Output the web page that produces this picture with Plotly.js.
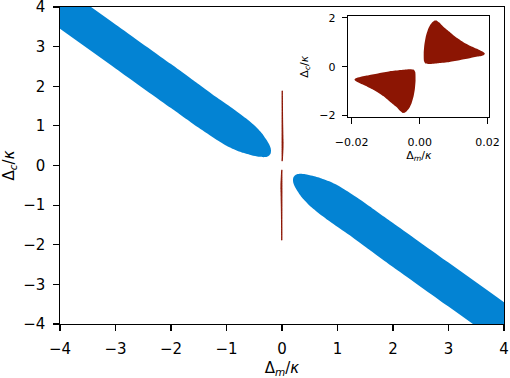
<!DOCTYPE html>
<html>
<head>
<meta charset="utf-8">
<script src="https://cdn.plot.ly/plotly-3.0.1.min.js"></script>
<style>
  html, body { margin: 0; padding: 0; background: #fff; }
  #plot { width: 510px; height: 378px; }
</style>
</head>
<body>
<div id="plot"></div>
<script>
// Boundary of the blue region, upper-left lobe (Δm/κ, Δc/κ), traced clockwise
const blueUpperLeftX = [-4.6, -3.0, -2.0, -1.5, -1.2, -0.9, -0.65, -0.48, -0.36, -0.28, -0.23, -0.205, -0.198, -0.205, -0.23, -0.27, -0.33, -0.42, -0.55, -0.70, -0.85, -1.0, -1.2, -1.5, -2.0, -3.0, -4.6];
const blueUpperLeftY = [5.16, 3.56, 2.56, 2.05, 1.74, 1.45, 1.19, 0.99, 0.81, 0.65, 0.53, 0.44, 0.37, 0.30, 0.25, 0.22, 0.21, 0.22, 0.26, 0.32, 0.40, 0.50, 0.67, 0.95, 1.45, 2.45, 4.05];

// Blue region, lower-right lobe
const blueLowerRightX = [4.6, 3.0, 2.0, 1.5, 1.2, 0.9, 0.65, 0.48, 0.36, 0.28, 0.23, 0.205, 0.198, 0.205, 0.23, 0.27, 0.33, 0.42, 0.55, 0.70, 0.85, 1.0, 1.2, 1.5, 2.0, 3.0, 4.6];
const blueLowerRightY = [-5.16, -3.56, -2.56, -2.05, -1.74, -1.45, -1.19, -0.99, -0.81, -0.65, -0.53, -0.44, -0.37, -0.30, -0.25, -0.22, -0.21, -0.22, -0.26, -0.32, -0.40, -0.50, -0.67, -0.95, -1.45, -2.45, -4.05];

// Red region, upper lobe (Δm > 0)
const redUpperX = [0.0050, 0.0058, 0.0069, 0.0090, 0.0107, 0.0130, 0.0155, 0.0176, 0.0187, 0.0192, 0.0188, 0.0175, 0.0150, 0.0120, 0.0088, 0.0055, 0.0028, 0.0017, 0.0013, 0.0012, 0.0014, 0.0018, 0.0024, 0.0031, 0.0038, 0.0044];
const redUpperY = [1.89, 1.80, 1.64, 1.40, 1.20, 0.99, 0.81, 0.68, 0.60, 0.53, 0.47, 0.42, 0.35, 0.27, 0.19, 0.14, 0.11, 0.13, 0.22, 0.55, 0.90, 1.22, 1.50, 1.70, 1.82, 1.88];

// Red region, lower lobe (Δm < 0)
const redLowerX = [-0.0050, -0.0058, -0.0069, -0.0090, -0.0107, -0.0130, -0.0155, -0.0176, -0.0187, -0.0192, -0.0188, -0.0175, -0.0150, -0.0120, -0.0088, -0.0055, -0.0028, -0.0017, -0.0013, -0.0012, -0.0014, -0.0018, -0.0024, -0.0031, -0.0038, -0.0044];
const redLowerY = [-1.89, -1.80, -1.64, -1.40, -1.20, -0.99, -0.81, -0.68, -0.60, -0.53, -0.47, -0.42, -0.35, -0.27, -0.19, -0.14, -0.11, -0.13, -0.22, -0.55, -0.90, -1.22, -1.50, -1.70, -1.82, -1.88];

// Axis ticks
const mainTicks = [-4, -3, -2, -1, 0, 1, 2, 3, 4];
const insetXTicks = [-0.02, 0.0, 0.02];
const insetXTickText = ['−0.02', '0.00', '0.02'];
const insetYTicks = [-2, 0, 2];

const BLUE = '#0383d3';
const RED = '#8c1503';

function region(x, y, color, xa, ya, lw) {
  return {
    type: 'scatter', mode: 'lines', x: x, y: y,
    xaxis: xa, yaxis: ya,
    fill: 'toself', fillcolor: color,
    line: { color: color, width: lw, shape: 'spline', smoothing: 0.6 },
    hoverinfo: 'skip', showlegend: false
  };
}

const traces = [
  region(blueUpperLeftX, blueUpperLeftY, BLUE, 'x', 'y', 0),
  region(blueLowerRightX, blueLowerRightY, BLUE, 'x', 'y', 0),
  region(redUpperX, redUpperY, RED, 'x', 'y', 1),
  region(redLowerX, redLowerY, RED, 'x', 'y', 1),
  region(redUpperX, redUpperY, RED, 'x2', 'y2', 0),
  region(redLowerX, redLowerY, RED, 'x2', 'y2', 0)
];

const FONT = 'DejaVu Sans, sans-serif';
const axisCommon = {
  showline: true, mirror: true, linecolor: '#000', linewidth: 1.1,
  ticks: 'outside', ticklen: 5.5, tickwidth: 1.1, tickcolor: '#000',
  showgrid: false, zeroline: false, automargin: false,
  ticklabeloverflow: 'allow'
};

const layout = {
  width: 510, height: 378,
  margin: { l: 60, r: 6, t: 7, b: 54 },
  paper_bgcolor: '#fff', plot_bgcolor: '#fff',
  font: { family: FONT, color: '#000', size: 15 },
  showlegend: false,
  xaxis: Object.assign({}, axisCommon, {
    range: [-4.0005, 4.0005], tickvals: mainTicks, domain: [0, 1], anchor: 'y',
    tickfont: { size: 15 }, ticklabelstandoff: 5,
    title: { text: 'Δ<sub><i>m</i></sub>/<i>κ</i>', font: { size: 15 }, standoff: 5 }
  }),
  yaxis: Object.assign({}, axisCommon, {
    range: [-4.0005, 4.0005], tickvals: mainTicks, domain: [0, 1], anchor: 'x',
    tickfont: { size: 15 }, ticklabelstandoff: 5,
    title: { text: 'Δ<sub><i>c</i></sub>/<i>κ</i>', font: { size: 15 }, standoff: 7 }
  }),
  xaxis2: Object.assign({}, axisCommon, {
    range: [-0.021, 0.0205], tickvals: insetXTicks, ticktext: insetXTickText,
    domain: [0.6493, 0.9669], anchor: 'y2',
    tickfont: { size: 11 }, ticklabelstandoff: 9,
    title: { text: 'Δ<sub><i>m</i></sub>/<i>κ</i>', font: { size: 11 }, standoff: 1 }
  }),
  yaxis2: Object.assign({}, axisCommon, {
    range: [-2.07, 2.07], tickvals: insetYTicks,
    domain: [0.6519, 0.9717], anchor: 'x2',
    tickfont: { size: 11 }, ticklabelstandoff: 4,
    title: { text: 'Δ<sub><i>c</i></sub>/<i>κ</i>', font: { size: 11 }, standoff: 8 }
  })
};

Plotly.newPlot('plot', traces, layout, { staticPlot: true, displayModeBar: false });
</script>
</body>
</html>
